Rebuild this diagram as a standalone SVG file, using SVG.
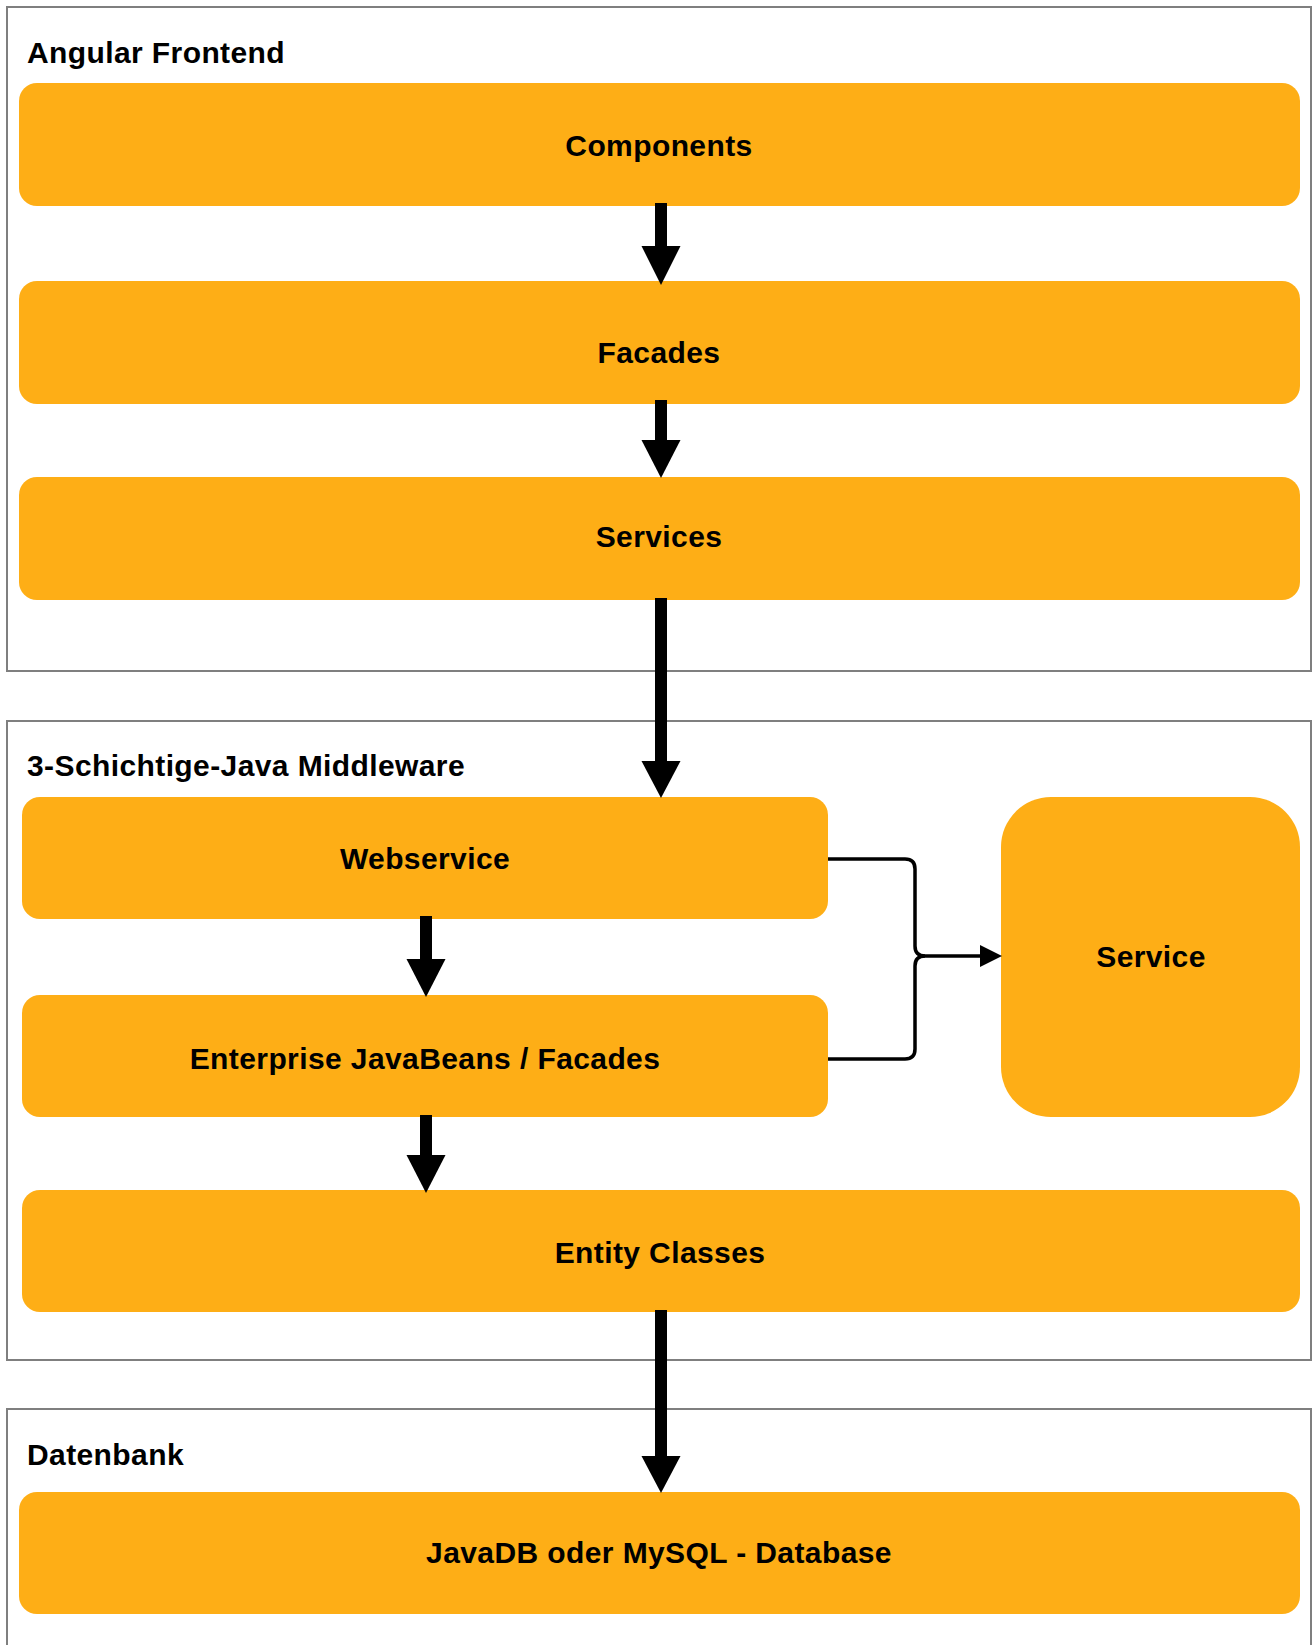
<svg xmlns="http://www.w3.org/2000/svg" width="1313" height="1645" viewBox="0 0 1313 1645">
<style>
.bg{fill:#ffffff}
.container{fill:#ffffff;stroke:#7f7f7f;stroke-width:2}
.node{fill:#FEAE16}
.lbl{font-family:"Liberation Sans",Arial,sans-serif;font-weight:bold;font-size:30px;letter-spacing:0.4px;fill:#000000}
.ctr{text-anchor:middle}
.shaft{stroke:#000;stroke-width:12;fill:none}
.head{fill:#000}
.thin{stroke:#000;stroke-width:3.5;fill:none;stroke-linejoin:round}
</style>
<rect class="bg" x="0" y="0" width="1313" height="1645"/>

<g id="container-frontend">
<rect class="container" x="7" y="7" width="1304" height="664"/>
<text class="lbl" x="27" y="63">Angular Frontend</text>
</g>
<g id="container-middleware">
<rect class="container" x="7" y="721" width="1304" height="639"/>
<text class="lbl" x="27" y="776">3-Schichtige-Java Middleware</text>
</g>
<g id="container-db">
<rect class="container" x="7" y="1409" width="1304" height="260"/>
<text class="lbl" x="27" y="1465">Datenbank</text>
</g>

<g id="node-components">
<rect class="node" x="19" y="83" width="1281" height="123" rx="18"/>
<text class="lbl ctr" x="659" y="156">Components</text>
</g>
<g id="node-facades">
<rect class="node" x="19" y="281" width="1281" height="123" rx="18"/>
<text class="lbl ctr" x="659" y="363">Facades</text>
</g>
<g id="node-services">
<rect class="node" x="19" y="477" width="1281" height="123" rx="18"/>
<text class="lbl ctr" x="659" y="547">Services</text>
</g>
<g id="node-webservice">
<rect class="node" x="22" y="797" width="806" height="122" rx="18"/>
<text class="lbl ctr" x="425" y="869">Webservice</text>
</g>
<g id="node-ejb">
<rect class="node" x="22" y="995" width="806" height="122" rx="18"/>
<text class="lbl ctr" x="425" y="1069">Enterprise JavaBeans / Facades</text>
</g>
<g id="node-service">
<rect class="node" x="1001" y="797" width="299" height="320" rx="50"/>
<text class="lbl ctr" x="1151" y="967">Service</text>
</g>
<g id="node-entity">
<rect class="node" x="22" y="1190" width="1278" height="122" rx="18"/>
<text class="lbl ctr" x="660" y="1263">Entity Classes</text>
</g>
<g id="node-database">
<rect class="node" x="19" y="1492" width="1281" height="122" rx="18"/>
<text class="lbl ctr" x="659" y="1563">JavaDB oder MySQL - Database</text>
</g>

<g id="connectors">
<line class="shaft" x1="661" y1="203" x2="661" y2="247"/>
<polygon class="head" points="641.5,246 680.5,246 661,285"/>
<line class="shaft" x1="661" y1="400" x2="661" y2="441"/>
<polygon class="head" points="641.5,440 680.5,440 661,478"/>
<line class="shaft" x1="661" y1="598" x2="661" y2="762"/>
<polygon class="head" points="641.5,761 680.5,761 661,798"/>
<line class="shaft" x1="426" y1="916" x2="426" y2="960"/>
<polygon class="head" points="406.5,959 445.5,959 426,997"/>
<line class="shaft" x1="426" y1="1115" x2="426" y2="1156"/>
<polygon class="head" points="406.5,1155 445.5,1155 426,1193"/>
<line class="shaft" x1="661" y1="1310" x2="661" y2="1457"/>
<polygon class="head" points="641.5,1456 680.5,1456 661,1493"/>
<path class="thin" d="M828,859 H905 Q915,859 915,869 V946 Q915,956 925,956 H982"/>
<path class="thin" d="M828,1059 H905 Q915,1059 915,1049 V966 Q915,956 925,956"/>
<polygon class="head" points="980,945 1002,956 980,967"/>
</g>
</svg>
